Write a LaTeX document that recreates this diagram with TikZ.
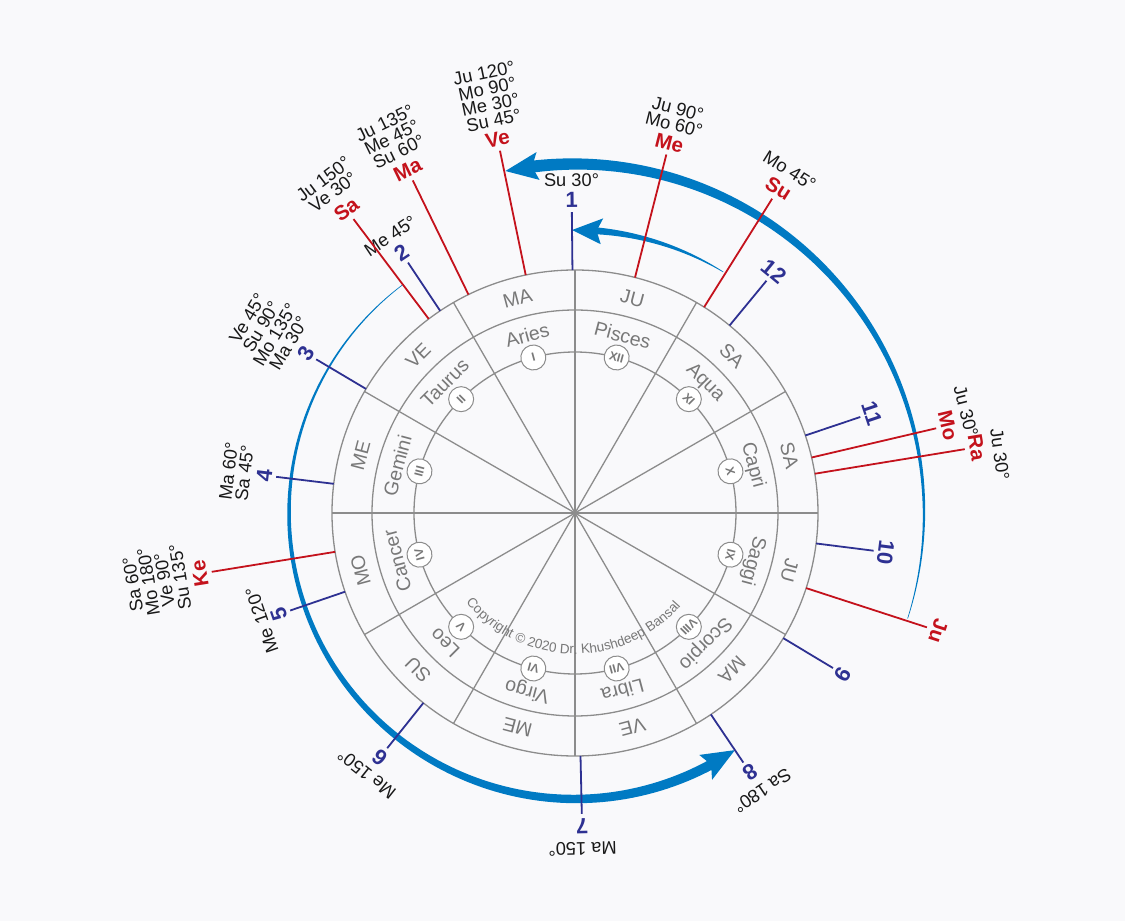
\documentclass[tikz,border=0pt]{standalone}
\usepackage{fontspec}
\setmainfont{Liberation Sans}
\usetikzlibrary{decorations.text}
\definecolor{navy}{RGB}{46,49,146}
\definecolor{pred}{RGB}{196,18,28}
\definecolor{arcblue}{RGB}{0,122,195}
\definecolor{ringgray}{RGB}{140,140,140}
\definecolor{txtgray}{RGB}{120,120,120}
\definecolor{bgc}{RGB}{249,249,251}
\definecolor{inkc}{RGB}{25,25,25}

\newcommand{\housecusp}[2]{%
  \coordinate (hs#2) at (#1:243);
  \coordinate (he#2) at (#1:301);
  \draw[navyline] (hs#2) -- (he#2);
  \node[numlab, rotate=#1-90] (hn#2) at (#1:313) {#2};
}
\newcommand{\planetline}[3]{%
  \coordinate (ps#2) at (#1:243);
  \coordinate (pe#2) at (#1:#3);
  \draw[redline] (ps#2) -- (pe#2);
  \node[plab, rotate=#1-90] (pn#2) at (#1:{#3+12}) {#2};
}
\newcommand{\labstack}[4]{%
  \foreach \t [count=\i] in {#4} {\node[blklab, rotate=#1-90] (#3x\i) at (#1:{#2+16*(\i-1)}) {\t};}
}
% R, start, tip, w0, w1, head length, head width
\newcommand{\taperarc}[7]{%
  \pgfmathsetmacro\tR{#1}
  \pgfmathsetmacro\tA{#2}
  \pgfmathsetmacro\tD{#6/#1*180/pi}
  \pgfmathsetmacro\tB{#3-\tD}
  \pgfmathsetmacro\tBB{\tB+1.5}
  \fill[arcblue] plot[domain=\tA:\tBB,samples=120] (\x:{\tR+(#4+(#5-#4)*(\x-\tA)/(\tBB-\tA))/2})
     -- plot[domain=\tBB:\tA,samples=120] (\x:{\tR-(#4+(#5-#4)*(\x-\tA)/(\tBB-\tA))/2}) -- cycle;
  \fill[arcblue] (#3:\tR) -- (\tB:{\tR+#7/2}) -- ({\tB+0.18*\tD}:\tR) -- (\tB:{\tR-#7/2}) -- cycle;
}

\begin{document}
\begin{tikzpicture}[x=1pt,y=1pt,
  navyline/.style={draw=navy, line width=1.8pt},
  redline/.style={draw=pred, line width=1.8pt},
  numlab/.style={text=navy, font=\fontsize{22}{24}\selectfont\bfseries, inner sep=0pt},
  plab/.style={text=pred, font=\fontsize{20.5}{22}\selectfont\bfseries, inner sep=0pt},
  blklab/.style={text=inkc, font=\fontsize{18.3}{20}\selectfont, inner sep=0pt},
  ringlab/.style={text=txtgray, font=\fontsize{19.5}{21}\selectfont, inner sep=0pt},
  romcirc/.style={circle, draw=ringgray, fill=white, line width=1pt, minimum size=25pt, inner sep=0pt, text=txtgray, font=\fontsize{12}{13}\selectfont\bfseries},
  ring/.style={draw=ringgray, line width=1.3pt}
]
\fill[bgc] (-575,-408) rectangle (550,513);
\useasboundingbox (-575,-408) rectangle (550,513);

% aspect arcs
\taperarc{349}{-17.6}{101.5}{0.6}{12}{33}{28}
\taperarc{283}{58.4}{90.6}{0.6}{7}{30}{26}
\taperarc{286}{127}{304}{0.6}{10}{34}{28}

% chart
\coordinate (O) at (0,0);
\foreach \a [count=\k] in {0,30,...,330} {\coordinate (s\k) at (\a:243); \draw[ring] (O) -- (s\k);}
\draw[ring] (O) circle[radius=243];
\draw[ring] (O) circle[radius=203];
\draw[ring] (O) circle[radius=161];

\foreach \a/\h/\s/\r [count=\k] in {105/MA/Aries/I, 75/JU/Pisces/XII, 45/SA/Aqua/XI, 15/SA/Capri/X,
   -15/JU/Saggi/IX, -45/MA/Scorpio/VIII, -75/VE/Libra/VII, -105/ME/Virgo/VI, -135/SU/Leo/V,
   -165/MO/Cancer/IV, 165/ME/Gemini/III, 135/VE/Taurus/II}
{
  \node[ringlab, rotate=\a-90] (house\k) at (\a:222) {\h};
  \node[ringlab, rotate=\a-90] (sign\k) at (\a:184) {\s};
  \node[romcirc, rotate=\a-90] (rom\k) at (\a:161) {\r};
}

\path[decorate, decoration={text along path, text align=center,
  text={|\fontsize{13.5}{15}\selectfont\color{txtgray}|Copyright © 2020 Dr. Khushdeep Bansal}}]
  (216:141) arc[start angle=216, end angle=322, radius=141];

% house cusps
\housecusp{90.6}{1}   \labstack{90.6}{333}{hA}{Su 30°}
\housecusp{123.7}{2}  \labstack{123.7}{333}{hB}{Me 45°}
\housecusp{149.3}{3}  \labstack{149.3}{333}{hC}{Ma 30°, Mo 135°, Su 90°, Ve 45°}
\housecusp{173.1}{4}  \labstack{173.1}{333}{hD}{Sa 45°, Ma 60°}
\housecusp{198.9}{5}  \labstack{198.9}{331}{hE}{Me 120°}
\housecusp{231.4}{6}  \labstack{231.4}{334}{hF}{Me 150°}
\housecusp{-88.7}{7}  \labstack{-88.7}{336}{hG}{Ma 150°}
\housecusp{-56}{8}    \labstack{-56}{335}{hH}{Sa 180°}
\housecusp{-31}{9}
\housecusp{-7.2}{10}
\housecusp{18.6}{11}
\housecusp{50.5}{12}

% planets
\planetline{127}{Sa}{368}    \labstack{127}{402}{pSa}{Ve 30°, Ju 150°}
\planetline{116}{Ma}{370}    \labstack{116}{402}{pMa}{Su 60°, Me 45°, Ju 135°}
\planetline{101.7}{Ve}{370}  \labstack{101.7}{401}{pVe}{Su 45°, Me 30°, Mo 90°, Ju 120°}
\planetline{75.7}{Me}{370}   \labstack{75.7}{401}{pMe}{Mo 60°, Ju 90°}
\planetline{57.9}{Su}{371}   \labstack{57.9}{404}{pSu}{Mo 45°}
\planetline{13.2}{Mo}{371}   \labstack{14.6}{404}{pMo}{Ju 30°}
\planetline{9.3}{Ra}{395}    \labstack{7.9}{429}{pRa}{Ju 30°}
\planetline{-18}{Ju}{370}
\planetline{189.2}{Ke}{368}  \labstack{189.2}{400}{pKe}{Su 135°, Ve 90°, Mo 180°, Sa 60°}
\end{tikzpicture}
\end{document}
